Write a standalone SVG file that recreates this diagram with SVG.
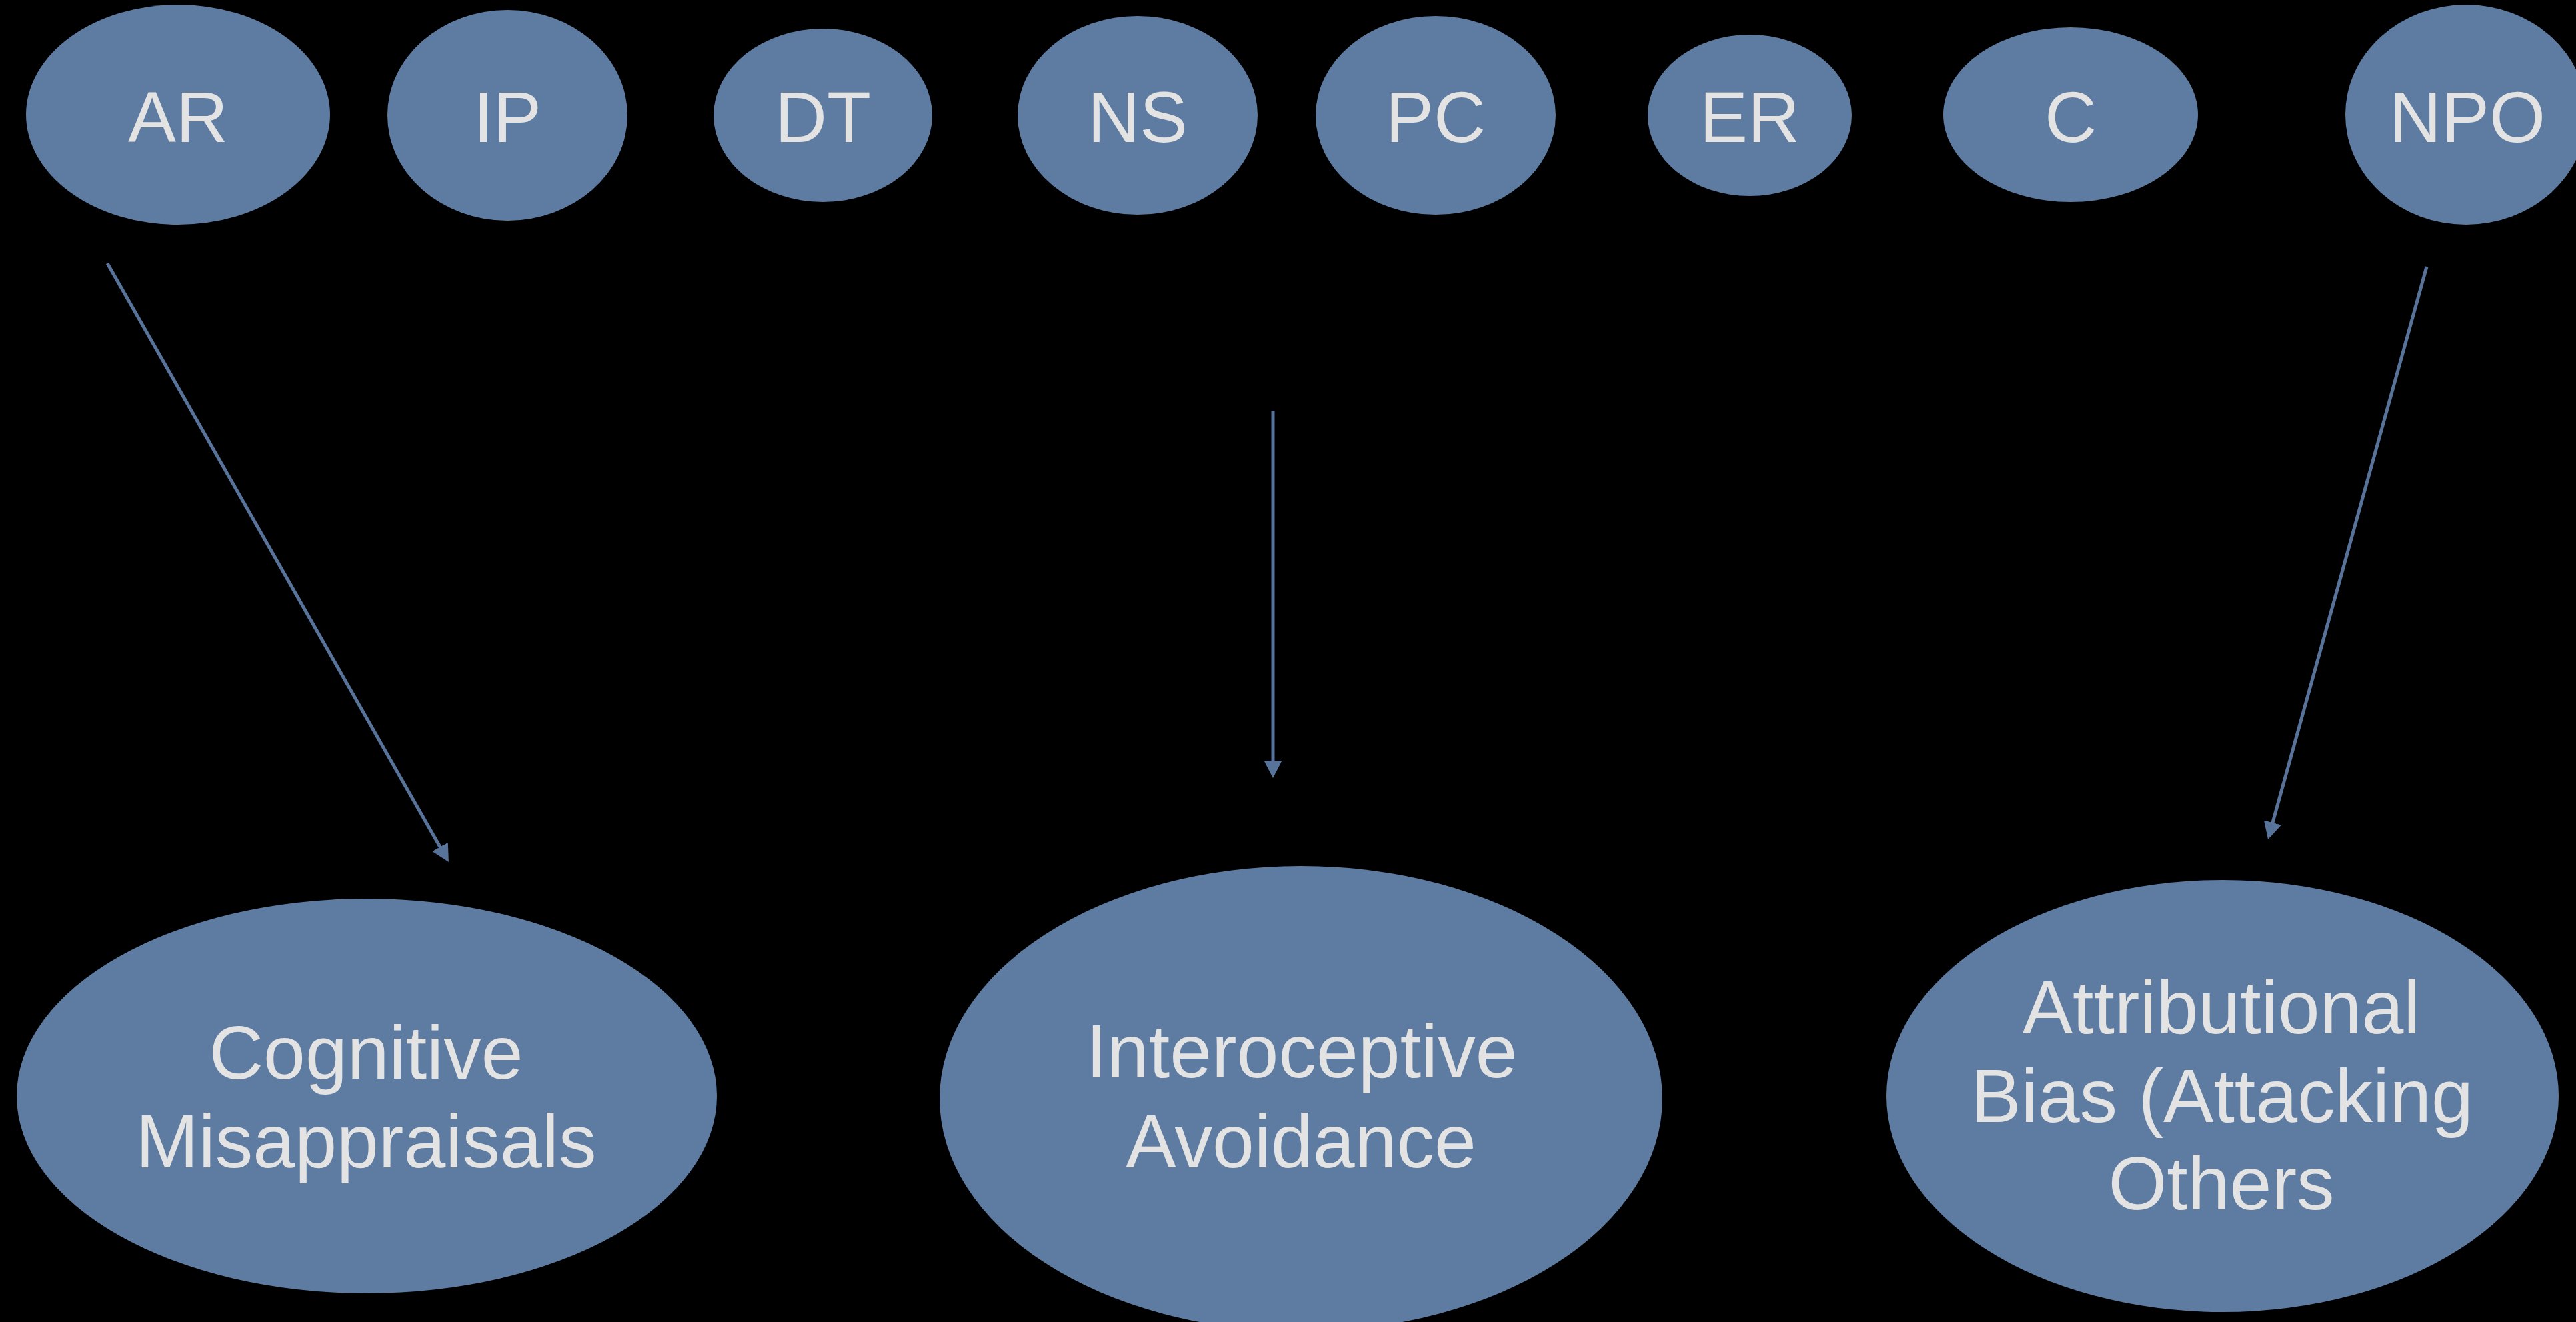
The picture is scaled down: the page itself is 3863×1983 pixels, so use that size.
<svg xmlns="http://www.w3.org/2000/svg" width="3863" height="1983" viewBox="0 0 3863 1983">
<style>
.n{fill:#5e7ca1}
.t{fill:#e3e3e3;font-family:"Liberation Sans",Arial,Helvetica,sans-serif;text-anchor:middle}
.s{font-size:108px}
.b{font-size:113px}
.c{stroke:#58739a;stroke-width:5;fill:none;marker-end:url(#ah)}
</style>
<defs>
<marker id="ah" markerUnits="userSpaceOnUse" markerWidth="28" markerHeight="28" refX="16" refY="13.5" orient="auto" viewBox="0 0 28 28">
<path d="M0,0 L26,13.5 L0,27 Z" fill="#58739a"/>
</marker>
</defs>
<rect x="0" y="0" width="3863" height="1983" fill="#000"/>
<g id="AR"><ellipse class="n" cx="267" cy="172" rx="228" ry="165"/><text class="t s" x="267" y="213">AR</text></g>
<g id="IP"><ellipse class="n" cx="761" cy="173" rx="180" ry="158"/><text class="t s" x="761" y="213">IP</text></g>
<g id="DT"><ellipse class="n" cx="1234" cy="173" rx="164" ry="130"/><text class="t s" x="1234" y="213">DT</text></g>
<g id="NS"><ellipse class="n" cx="1706" cy="173" rx="180" ry="149"/><text class="t s" x="1706" y="213">NS</text></g>
<g id="PC"><ellipse class="n" cx="2153" cy="173" rx="180" ry="149"/><text class="t s" x="2153" y="213">PC</text></g>
<g id="ER"><ellipse class="n" cx="2624" cy="173" rx="153" ry="121"/><text class="t s" x="2624" y="213">ER</text></g>
<g id="C"><ellipse class="n" cx="3105" cy="172" rx="191" ry="131"/><text class="t s" x="3105" y="213">C</text></g>
<g id="NPO"><ellipse class="n" cx="3698" cy="172" rx="181" ry="165"/><text class="t s" x="3700" y="213">NPO</text></g>
<g id="CM"><ellipse class="n" cx="550" cy="1644" rx="525" ry="296"/><text class="t b" x="549" y="1618">Cognitive</text><text class="t b" x="549" y="1751">Misappraisals</text></g>
<g id="IA"><ellipse class="n" cx="1951" cy="1648" rx="542" ry="349"/><text class="t b" x="1952" y="1616">Interoceptive</text><text class="t b" x="1951" y="1751">Avoidance</text></g>
<g id="AB"><ellipse class="n" cx="3333" cy="1644" rx="504" ry="324"/><text class="t b" x="3331" y="1550">Attributional</text><text class="t b" x="3332" y="1683">Bias (Attacking</text><text class="t b" x="3331" y="1814">Others</text></g>
<g id="connectors">
<line class="c" x1="161" y1="395" x2="668" y2="1284.3"/>
<line class="c" x1="1909" y1="616" x2="1909" y2="1157"/>
<line class="c" x1="3639" y1="400" x2="3403.7" y2="1249.4"/>
</g>
</svg>
